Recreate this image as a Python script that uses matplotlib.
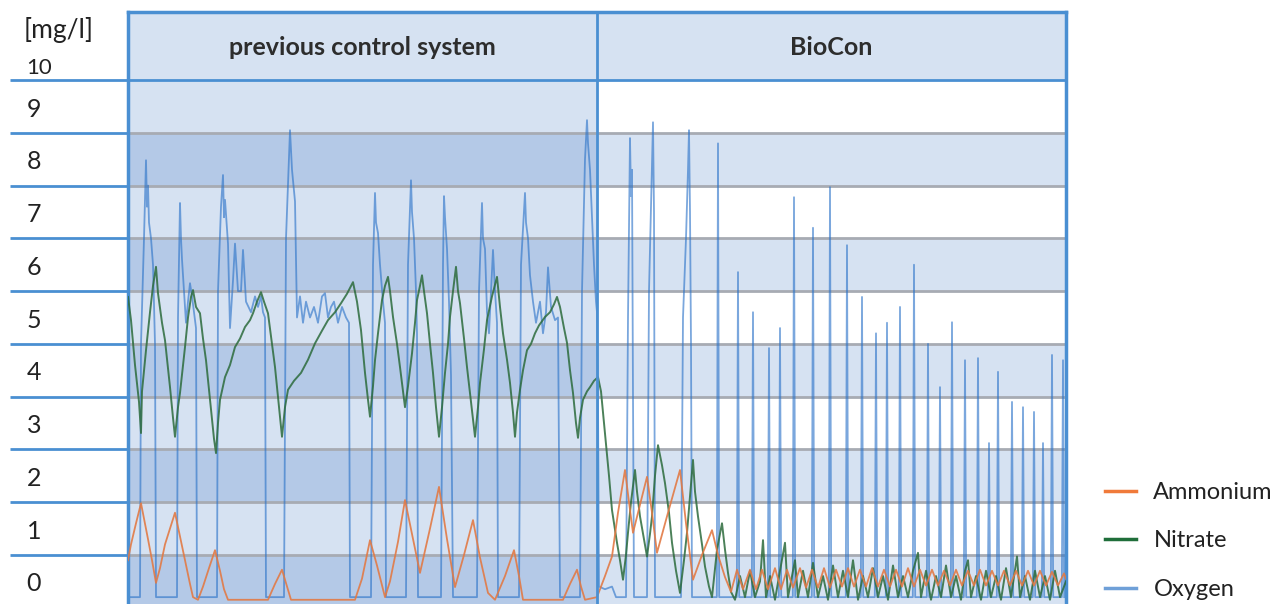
import matplotlib
matplotlib.use("Agg")
import matplotlib.pyplot as plt
from matplotlib.lines import Line2D

plt.rcParams['font.family'] = ['Lato', 'DejaVu Sans']

# time axis has no labels in the original: hours, divider between the two regimes
T_END = 93.8
T_SWITCH = 46.9
Y_MIN, Y_MAX = 0.07, 11.29

sections = ["previous control system", "BioCon"]
y_ticks = [1, 2, 3, 4, 5, 6, 7, 8, 9, 10]
y_labels = ["0", "1", "2", "3", "4", "5", "6", "7", "8", "9"]
unit_label = "[mg/l]"
series_names = ["Ammonium", "Nitrate", "Oxygen"]

# ammonium, mg/l
amm_t = [0.0, 0.3, 0.8, 1.3, 2.0, 2.4, 2.8, 3.2, 3.7, 4.2, 4.7, 5.2, 5.7, 6.2, 6.5, 7.0,
         7.5, 8.1, 8.7, 9.2, 9.6, 10.0, 14.0, 14.7, 15.4, 15.9, 16.3, 22.7, 23.4, 24.2,
         24.9, 25.7, 26.2, 27.0, 27.7, 28.4, 29.2, 30.2, 31.1, 31.9, 32.7, 33.6, 34.5,
         35.2, 36.0, 36.7, 37.7, 38.6, 39.1, 39.5, 43.5, 44.2, 44.9, 45.3, 45.7, 46.9,
         47.7, 48.4, 49.0, 49.7, 50.1, 50.5, 51.2, 51.9, 52.4, 52.9, 54.0, 55.2, 55.8,
         56.5, 57.4, 58.4, 59.0, 59.7, 60.3, 60.9, 61.5, 62.2, 62.8, 63.4, 64.0, 64.7,
         65.3, 65.9, 66.5, 67.2, 67.8, 68.4, 69.0, 69.6, 70.2, 70.8, 71.4, 72.0, 72.6,
         73.2, 73.8, 74.4, 75.0, 75.6, 76.2, 76.8, 77.4, 78.0, 78.6, 79.2, 79.8, 80.4,
         81.0, 81.6, 82.2, 82.8, 83.4, 84.0, 84.6, 85.2, 85.8, 86.4, 87.0, 87.6, 88.2,
         88.8, 89.4, 90.0, 90.6, 91.2, 91.8, 92.4, 93.0, 93.6, 93.8]
amm_v = [0.9, 1.2, 1.6, 1.98, 1.3, 0.9, 0.47, 0.75, 1.2, 1.5, 1.8, 1.35, 0.9, 0.45, 0.2, 0.15,
         0.4, 0.75, 1.09, 0.7, 0.35, 0.15, 0.15, 0.45, 0.72, 0.4, 0.15, 0.15, 0.55, 1.28,
         0.8, 0.2, 0.5, 1.25, 2.04, 1.4, 0.66, 1.5, 2.29, 1.3, 0.39, 1.0, 1.66,
         0.95, 0.28, 0.15, 0.6, 1.09, 0.6, 0.15, 0.15, 0.45, 0.72, 0.4, 0.15, 0.2,
         0.6, 0.97, 1.8, 2.61, 2.0, 1.42, 1.95, 2.48, 1.8, 1.04, 1.8, 2.61, 1.6,
         0.53, 1.0, 1.47, 1.0, 0.58, 0.3, 0.72, 0.35, 0.72, 0.35, 0.72, 0.35, 0.75,
         0.35, 0.72, 0.38, 0.75, 0.38, 0.72, 0.38, 0.75, 0.38, 0.72, 0.4, 0.75, 0.4,
         0.72, 0.4, 0.75, 0.4, 0.72, 0.4, 0.72, 0.4, 0.75, 0.4, 0.72, 0.42, 0.72,
         0.42, 0.7, 0.42, 0.72, 0.42, 0.7, 0.42, 0.72, 0.42, 0.7, 0.42, 0.7, 0.42,
         0.7, 0.42, 0.7, 0.42, 0.7, 0.42, 0.68, 0.42, 0.65, 0.55]

# nitrate, mg/l
nit_t = [0.0, 0.3, 0.7, 1.1, 1.3, 1.4, 1.8, 2.2, 2.5, 2.8, 3.0, 3.4, 3.7, 4.2, 4.5, 4.7,
         5.0, 5.2, 5.7, 6.0, 6.3, 6.5, 6.8, 7.2, 7.5, 7.8, 8.3, 8.6, 8.8, 9.0, 9.2, 9.7,
         10.2, 10.7, 11.2, 11.7, 12.2, 12.5, 12.9, 13.3, 13.6, 14.0, 14.4, 14.7, 15.1,
         15.4, 15.7, 16.0, 16.6, 17.3, 18.0, 18.7, 19.4, 20.0, 20.7, 21.3, 21.9, 22.5,
         22.9, 23.3, 23.7, 24.0, 24.2, 24.5, 24.7, 25.0, 25.4, 25.7, 26.0, 26.2, 26.5,
         26.9, 27.2, 27.5, 27.7, 28.0, 28.4, 28.7, 28.9, 29.2, 29.4, 29.6, 29.9, 30.2,
         30.5, 30.8, 31.1, 31.4, 31.7, 32.0, 32.2, 32.5, 32.8, 33.0, 33.2, 33.6, 33.9,
         34.3, 34.7, 35.0, 35.2, 35.6, 35.9, 36.4, 36.9, 37.2, 37.5, 37.9, 38.2, 38.5,
         38.7, 38.9, 39.2, 39.5, 39.9, 40.3, 40.7, 41.1, 41.7, 42.2, 42.6, 42.9, 43.2,
         43.6, 43.9, 44.2, 44.5, 44.8, 45.0, 45.2, 45.5, 45.9, 46.2, 46.6, 47.0,
         47.3, 47.7, 48.1, 48.4, 48.9, 49.2, 49.5, 49.8, 50.0, 50.3, 50.7, 50.9, 51.2,
         51.6, 51.9, 52.2, 52.4, 52.7, 53.0, 53.4, 53.7, 54.1, 54.4, 54.8, 55.2, 55.6,
         55.9, 56.2, 56.5, 56.7, 57.0, 57.4, 57.7, 58.1, 58.4, 58.9, 59.4, 59.7, 60.0,
         60.3, 60.7, 61.2, 61.7, 62.2, 62.7, 63.2, 63.5, 63.8, 64.2, 64.7, 65.2, 65.7,
         66.0, 66.4, 66.7, 67.0, 67.5, 68.0, 68.5, 69.0, 69.5, 70.0, 70.5, 71.0, 71.5,
         72.0, 72.5, 73.0, 73.5, 74.0, 74.5, 75.0, 75.5, 76.0, 76.5, 77.0, 77.5, 78.0,
         78.5, 79.0, 79.3, 79.8, 80.3, 80.8, 81.3, 81.8, 82.3, 82.8, 83.3, 83.7, 84.0,
         84.3, 84.8, 85.3, 85.8, 86.3, 86.8, 87.3, 87.8, 88.3, 88.9, 89.2, 89.7, 90.2,
         90.7, 91.2, 91.7, 92.2, 92.7, 93.2, 93.8]
nit_v = [5.89, 5.45, 4.6, 3.9, 3.31, 4.1, 4.88, 5.6, 6.1, 6.46, 5.96, 5.4, 5.07, 4.18, 3.6, 3.24,
         3.8, 4.07, 4.94, 5.5, 5.89, 6.02, 5.7, 5.58, 5.1, 4.69, 3.75, 3.2, 2.93, 3.5, 3.94, 4.37,
         4.6, 4.94, 5.1, 5.32, 5.45, 5.58, 5.8, 5.98, 5.8, 5.58, 5.0, 4.56, 3.8,
         3.24, 3.8, 4.13, 4.3, 4.45, 4.7, 5.01, 5.25, 5.45, 5.6, 5.77, 5.95, 6.17,
         5.8, 5.26, 4.45, 3.94, 3.62, 4.2, 4.69, 5.2, 5.83, 6.1, 6.27, 6.0, 5.51,
         5.0, 4.56, 4.1, 3.8, 4.2, 4.82, 5.4, 5.83, 6.1, 6.3, 6.0, 5.58, 5.0,
         4.45, 3.8, 3.24, 3.8, 4.45, 5.0, 5.51, 6.0, 6.46, 6.0, 5.77, 5.1, 4.56,
         3.9, 3.24, 3.8, 4.26, 4.9, 5.45, 5.9, 6.27, 5.7, 5.2, 4.7, 4.26, 3.7,
         3.24, 3.7, 4.13, 4.5, 4.88, 5.0, 5.2, 5.35, 5.51, 5.6, 5.75, 5.89, 5.7,
         5.3, 5.02, 4.5, 4.07, 3.5, 3.22, 3.6, 3.94, 4.1, 4.18, 4.3, 4.37,
         4.1, 3.31, 2.5, 1.85, 1.23, 0.9, 0.53, 1.0, 1.42, 2.0, 2.61, 2.2, 1.73,
         1.3, 0.97, 1.4, 1.73, 2.5, 3.08, 2.7, 2.36, 1.8, 1.23, 0.7, 0.28, 0.9,
         1.42, 2.1, 2.8, 2.2, 1.73, 1.2, 0.78, 0.4, 0.2, 1.1, 1.6, 1.1, 0.66,
         0.3, 0.15, 0.6, 0.2, 0.7, 0.2, 0.5, 1.28, 0.2, 0.6, 0.15, 0.7, 1.23,
         0.2, 0.6, 0.9, 0.2, 0.7, 0.2, 0.85, 0.2, 0.6, 0.15, 0.8, 0.2, 0.7,
         0.2, 0.9, 0.15, 0.6, 0.2, 0.75, 0.2, 0.6, 0.15, 0.8, 0.2, 0.6, 0.2,
         0.7, 1.04, 0.2, 0.7, 0.15, 0.6, 0.2, 0.8, 0.2, 0.6, 0.15, 0.7, 0.9,
         0.2, 0.6, 0.15, 0.7, 0.2, 0.6, 0.15, 0.75, 0.2, 0.97, 0.2, 0.6, 0.15,
         0.7, 0.2, 0.6, 0.15, 0.7, 0.2, 0.5]

# oxygen, mg/l: aeration blocks of the old control plus the first BioCon pulses
oxy_t = [0.0, 1.2, 1.3, 1.6, 1.8, 1.9, 2.0, 2.1, 2.3, 2.5, 2.7, 2.8,
         4.9, 5.0, 5.2, 5.3, 5.4, 5.6, 5.8, 6.0, 6.2, 6.4, 6.6, 6.8, 6.9,
         8.9, 9.0, 9.3, 9.5, 9.6, 9.7, 10.0, 10.2, 10.5, 10.7, 11.0, 11.3, 11.5, 11.8,
         12.3, 12.7, 13.0, 13.3, 13.5, 13.7, 13.8,
         15.6, 15.8, 16.2, 16.4, 16.7, 16.9, 17.2, 17.5, 17.8, 18.2, 18.6, 19.0, 19.4,
         19.7, 20.0, 20.3, 20.6, 21.0, 21.4, 21.8, 22.1, 22.2,
         24.3, 24.5, 24.7, 24.8, 25.0, 25.2, 25.5, 25.7, 25.8,
         27.8, 28.0, 28.3, 28.4, 28.6, 28.8, 28.9, 29.0,
         31.3, 31.5, 31.6, 31.7, 31.9, 32.1, 32.3, 32.5,
         34.9, 35.1, 35.4, 35.5, 35.7, 35.9, 36.1, 36.3, 36.5, 36.7, 36.9, 37.0,
         39.1, 39.3, 39.7, 39.8, 40.0, 40.2, 40.5, 40.8, 41.2, 41.5, 41.8, 42.0, 42.3,
         42.7, 43.0, 43.2,
         45.2, 45.4, 45.7, 45.9, 46.0, 46.2, 46.4, 46.6, 46.8, 46.9, 47.0, 47.1,
         47.7, 48.4, 48.8,
         49.8, 50.0, 50.2, 50.3, 50.4, 50.5, 50.6,
         51.9, 52.1, 52.4, 52.5, 52.6, 52.7,
         55.3, 55.5, 55.8, 56.0, 56.1, 56.2, 56.3, 56.4]
oxy_v = [0.2, 0.2, 5.0, 7.0, 8.48, 7.6, 8.0, 7.3, 7.0, 6.5, 5.0, 0.2,
         0.2, 5.5, 7.67, 7.0, 6.6, 6.0, 5.4, 5.8, 6.15, 5.9, 5.6, 5.3, 0.2,
         0.2, 6.0, 7.6, 8.2, 7.4, 7.73, 6.9, 5.3, 6.2, 6.9, 6.0, 6.0, 6.78, 5.8,
         5.6, 5.9, 5.7, 5.9, 5.6, 5.5, 0.2,
         0.2, 7.0, 9.05, 8.3, 7.7, 5.5, 5.9, 5.4, 5.8, 5.5, 5.7, 5.4, 5.9,
         5.96, 5.5, 5.7, 5.8, 5.4, 5.7, 5.5, 5.4, 0.2,
         0.2, 6.5, 7.86, 7.3, 7.1, 6.5, 5.8, 5.4, 0.2,
         0.2, 6.5, 8.1, 7.5, 7.0, 6.0, 5.2, 0.2,
         0.2, 6.5, 7.8, 7.4, 6.8, 5.8, 4.4, 0.2,
         0.2, 6.0, 7.67, 7.0, 6.8, 5.6, 5.2, 6.0, 6.78, 6.0, 5.4, 0.2,
         0.2, 6.5, 7.86, 7.3, 7.0, 6.3, 5.8, 5.4, 5.8, 5.2, 5.6, 6.45, 5.7,
         5.45, 5.5, 0.2,
         0.2, 6.0, 8.5, 9.24, 8.8, 8.3, 7.4, 6.5, 5.8, 5.6, 4.0, 0.4,
         0.35, 0.4, 0.2,
         0.2, 5.5, 8.9, 7.8, 8.3, 4.0, 0.2,
         0.2, 6.0, 8.4, 9.2, 7.5, 0.2,
         0.2, 5.5, 7.0, 8.3, 9.05, 7.5, 5.0, 0.2]

# short BioCon oxygen pulses: peak time and peak value
spike_t = [59.0, 61.0, 62.5, 64.1, 65.2, 66.6, 68.5, 70.2, 71.9, 73.4, 74.8, 75.9, 77.2,
           78.6, 80.0, 81.2, 82.4, 83.7, 85.0, 86.1, 87.0, 88.4, 89.5, 90.6, 91.5, 92.4,
           93.5]
spike_v = [8.8, 6.36, 5.6, 4.92, 5.3, 7.78, 7.2, 7.97, 6.87, 5.89, 5.2, 5.4, 5.7,
           6.5, 5.0, 4.18, 5.41, 4.69, 4.73, 3.12, 4.47, 3.9, 3.8, 3.71, 3.12, 4.79,
           4.69]
OXY_BASE = 0.2

for tp, vp in zip(spike_t, spike_v):
    oxy_t += [tp - 0.12, tp, tp + 0.12]
    oxy_v += [OXY_BASE, vp, OXY_BASE]

BLUE = '#4a8fd2'
GRID = '#a7abb3'
DARK = '#b4c9e7'
LIGHT = '#d6e2f2'

fig = plt.figure(figsize=(12.88, 6.04), dpi=100)
ax = fig.add_axes([128 / 1288, 0, 938 / 1288, 592 / 604])
ax.set_xlim(0, T_END)
ax.set_ylim(Y_MIN, Y_MAX)

# banded background, darker on the old-control side
split = T_SWITCH / T_END
for lo in range(0, 10):
    hi = lo + 1
    if lo % 2 == 0:
        ax.axhspan(max(lo, Y_MIN), hi, xmin=0, xmax=split, color=DARK, lw=0, zorder=0)
        ax.axhspan(max(lo, Y_MIN), hi, xmin=split, xmax=1, color=LIGHT, lw=0, zorder=0)
    else:
        ax.axhspan(lo, hi, xmin=0, xmax=split, color=LIGHT, lw=0, zorder=0)
        ax.axhspan(lo, hi, xmin=split, xmax=1, color='white', lw=0, zorder=0)
ax.axhspan(10, Y_MAX, color=LIGHT, lw=0, zorder=0)

for y in y_ticks[:-1]:
    ax.axhline(y, color=GRID, lw=2, zorder=1)
ax.axhline(10, color=BLUE, lw=2, zorder=4)
ax.axvline(T_SWITCH, color=BLUE, lw=2, zorder=4)

ax.plot(oxy_t, oxy_v, color='#2a72c8', lw=1.3, alpha=0.62, zorder=2)
ax.plot(nit_t, nit_v, color='#2c6b3c', lw=1.4, alpha=0.85, zorder=3)
ax.plot(amm_t, amm_v, color='#e27a45', lw=1.3, alpha=0.9, zorder=3)

ax.text(T_SWITCH / 2, 10.62, sections[0], ha='center', va='center', fontsize=18,
        fontweight='bold', color='#2d2d2d')
ax.text(T_SWITCH + (T_END - T_SWITCH) / 2, 10.62, sections[1], ha='center', va='center',
        fontsize=18, fontweight='bold', color='#2d2d2d')

# axis: long blue tick lines, labels sit inside the bands
for s in ['left', 'top', 'right']:
    ax.spines[s].set_color(BLUE)
    ax.spines[s].set_linewidth(2.5)
ax.spines['bottom'].set_visible(False)
ax.set_xticks([])
ax.set_yticks(y_ticks)
ax.set_yticklabels([])
ax.tick_params(axis='y', length=85, width=2, color=BLUE, direction='out')

ytr = ax.get_yaxis_transform()
for y, lab in zip(y_ticks, y_labels):
    ax.text(-0.108, y - 0.55, lab, transform=ytr, ha='left', va='center', fontsize=18,
            color='#222222')
ax.text(-0.108, 10.23, "10", transform=ytr, ha='left', va='center', fontsize=16,
        color='#222222')
ax.text(-0.111, 10.95, unit_label, transform=ytr, ha='left', va='center', fontsize=19,
        color='#222222')

handles = [Line2D([], [], color='#f07a3a', lw=2.5),
           Line2D([], [], color='#1f6e3a', lw=2.5),
           Line2D([], [], color='#6fa0d8', lw=2.5)]
fig.legend(handles, series_names, loc='upper left', bbox_to_anchor=(1105 / 1288, 1 - 482 / 604),
           frameon=False, fontsize=17, handlelength=1.3, handletextpad=0.75,
           labelspacing=1.16, borderpad=0, borderaxespad=0, labelcolor='#222222')

fig.savefig('out.png', dpi=100)
